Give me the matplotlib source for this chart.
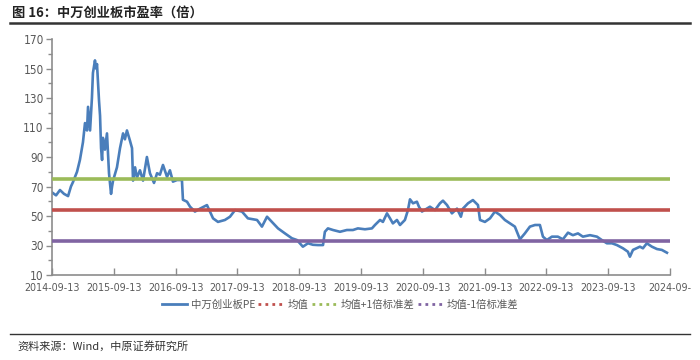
import matplotlib
matplotlib.use("Agg")
import matplotlib.pyplot as plt
import matplotlib.dates as mdates
from matplotlib.lines import Line2D
import pandas as pd

plt.rcParams['font.family'] = ['Noto Sans CJK SC', 'DejaVu Sans']

title = "图 16：中万创业板市盈率（倍）"
source = "资料来源：Wind，中原证券研究所"
series_names = ["中万创业板PE", "均值", "均值+1倍标准差", "均值-1倍标准差"]

dates = [
    "2014-09-13", "2014-10-07", "2014-10-30", "2014-11-23", "2014-12-17", "2015-01-03",
    "2015-01-15", "2015-02-08", "2015-02-25", "2015-03-15", "2015-03-27", "2015-04-08",
    "2015-04-14", "2015-04-26", "2015-05-07", "2015-05-13", "2015-05-25", "2015-05-31",
    "2015-06-06", "2015-06-18", "2015-06-24", "2015-06-30", "2015-07-06", "2015-07-11",
    "2015-07-23", "2015-08-04", "2015-08-16", "2015-08-22", "2015-08-28", "2015-09-03",
    "2015-09-09", "2015-10-02", "2015-10-20", "2015-11-07", "2015-11-18", "2015-11-30",
    "2015-12-18", "2015-12-30", "2016-01-05", "2016-01-17", "2016-01-28", "2016-02-15",
    "2016-03-04", "2016-03-27", "2016-04-14", "2016-05-08", "2016-05-26", "2016-06-12",
    "2016-06-30", "2016-07-24", "2016-08-10", "2016-08-28", "2016-09-21", "2016-10-20",
    "2016-10-26", "2016-11-19", "2016-12-07", "2017-01-05", "2017-02-04", "2017-03-17",
    "2017-04-22", "2017-05-21", "2017-07-01", "2017-07-31", "2017-08-30", "2017-10-10",
    "2017-11-14", "2018-01-07", "2018-02-05", "2018-03-07", "2018-04-05", "2018-05-11",
    "2018-06-21", "2018-08-01", "2018-08-31", "2018-10-05", "2018-11-04", "2018-12-03",
    "2019-01-02", "2019-02-01", "2019-02-12", "2019-03-02", "2019-04-01", "2019-05-12",
    "2019-06-22", "2019-07-28", "2019-08-26", "2019-10-07", "2019-11-17", "2019-12-05",
    "2020-01-04", "2020-01-21", "2020-02-14", "2020-03-03", "2020-03-20", "2020-04-13",
    "2020-05-01", "2020-05-30", "2020-06-17", "2020-06-29", "2020-07-17", "2020-08-09",
    "2020-08-21", "2020-09-08", "2020-10-07", "2020-10-25", "2020-11-24", "2020-12-23",
    "2021-01-10", "2021-02-03", "2021-03-04", "2021-04-03", "2021-04-26", "2021-05-08",
    "2021-06-07", "2021-07-06", "2021-08-05", "2021-08-17", "2021-09-15", "2021-10-15",
    "2021-11-13", "2021-12-13", "2022-01-11", "2022-02-10", "2022-03-11", "2022-04-10",
    "2022-05-09", "2022-06-08", "2022-07-08", "2022-08-06", "2022-08-24", "2022-09-16",
    "2022-10-16", "2022-11-20", "2022-12-20", "2023-01-19", "2023-02-17", "2023-03-19",
    "2023-04-17", "2023-05-29", "2023-07-09", "2023-08-07", "2023-09-06", "2023-10-06",
    "2023-11-04", "2023-12-10", "2024-01-08", "2024-01-20", "2024-02-07", "2024-03-19",
    "2024-04-06", "2024-04-29", "2024-05-29", "2024-06-28", "2024-07-27", "2024-08-26",
]
pe = [
    66, 64, 67.6, 65, 63.5, 70,
    73, 80, 88, 100, 113, 108,
    124, 108, 130, 147, 155.5, 150,
    153, 128, 118, 96, 88, 103,
    95, 106, 79, 72, 65, 70,
    74, 83, 96, 106, 102, 108,
    101, 96, 74, 83, 76, 81,
    74, 90, 79, 72.4, 79, 78,
    84.6, 76.5, 81, 73.3, 74.4, 74.4,
    61, 59.7, 56.3, 53, 55, 57.4,
    48.4, 46, 47.3, 49.5, 54, 53,
    48.4, 47.3, 42.8, 49.5, 46, 41.6,
    38.2, 34.9, 33.7, 29.2, 31.5, 30.5,
    30.3, 30.3, 39.3, 41.6, 40.5, 39.3,
    40.5, 40.5, 41.6, 41, 41.6, 43.9,
    47.3, 46, 51.8, 48.4, 45, 47.3,
    43.9, 47.3, 54, 61.3, 58.6, 59.7,
    56.3, 53, 55, 56.3, 54, 58.6,
    60.4, 57.4, 51.8, 55, 49.5, 55,
    58.6, 60.8, 57.4, 47.3, 46, 48.4,
    53, 50.7, 47.3, 45, 42.8, 34.2,
    38.2, 42.8, 43.9, 43.9, 36, 33.7,
    36, 36, 34.2, 38.7, 37, 38.2,
    36, 37, 36, 33.7, 31.5, 31.5,
    30.3, 28.1, 25.8, 22.4, 27, 29.2,
    28.1, 31.5, 29.2, 27.6, 27, 25.1,
]
mean_val = 54.0
plus1_val = 75.0
minus1_val = 33.3

tick_dates = ["2014-09-13", "2015-09-13", "2016-09-13", "2017-09-13", "2018-09-13",
              "2019-09-13", "2020-09-13", "2021-09-13", "2022-09-13", "2023-09-13",
              "2024-09-13"]
tick_labels = ["2014-09-13", "2015-09-13", "2016-09-13", "2017-09-13", "2018-09-13",
               "2019-09-13", "2020-09-13", "2021-09-13", "2022-09-13", "2023-09-13",
               "2024-09-"]
y_ticks = [10, 30, 50, 70, 90, 110, 130, 150, 170]

c_line = "#4a7ebb"
c_mean = "#c0504d"
c_plus = "#9bbb59"
c_minus = "#8064a2"
c_axis = "#8c8c8c"
c_text = "#595959"

x = pd.to_datetime(dates)
xt = pd.to_datetime(tick_dates)

fig = plt.figure(figsize=(7, 3.6), dpi=100)
ax = fig.add_axes([52/700, 1-275/360, (670-52)/700, (275-39)/360])

ax.plot(x, pe, color=c_line, lw=1.9, zorder=2)
ax.axhline(mean_val, color=c_mean, lw=2.6, zorder=3)
ax.axhline(plus1_val, color=c_plus, lw=2.6, zorder=3)
ax.axhline(minus1_val, color=c_minus, lw=2.6, zorder=3)

ax.set_xlim(xt[0], xt[-1])
ax.set_ylim(10, 170)
ax.set_yticks(y_ticks)
ax.set_yticks(list(range(20, 170, 20)), minor=True)
ax.set_xticks(xt)
ax.set_xticklabels(tick_labels)

for lab in ax.get_xticklabels():
    lab.set_fontfamily('DejaVu Sans')
    lab.set_fontstretch('condensed')
    lab.set_fontsize(7.7)
    lab.set_color(c_text)
for lab in ax.get_yticklabels():
    lab.set_fontfamily('DejaVu Sans')
    lab.set_fontstretch('condensed')
    lab.set_fontsize(8.5)
    lab.set_color(c_text)

for s in ["top", "right"]:
    ax.spines[s].set_visible(False)
for s in ["left", "bottom"]:
    ax.spines[s].set_color(c_axis)
    ax.spines[s].set_linewidth(1.2)
ax.tick_params(axis='y', which='both', direction='out', color=c_axis, width=1, pad=2)
ax.tick_params(axis='y', which='major', length=4)
ax.tick_params(axis='y', which='minor', length=3)
ax.tick_params(axis='x', direction='in', color=c_axis, length=5, width=1, pad=6)

handles = [
    Line2D([], [], color=c_line, lw=2),
    Line2D([], [], color=c_mean, lw=2, ls=(0, (1, 1.5))),
    Line2D([], [], color=c_plus, lw=2, ls=(0, (1, 1.5))),
    Line2D([], [], color=c_minus, lw=2, ls=(0, (1, 1.5))),
]
leg = fig.legend(handles, series_names, loc='center', bbox_to_anchor=(340/700, 1-305/360),
                 ncol=4, frameon=False, fontsize=7.5, handlelength=2.4, handletextpad=0.4,
                 columnspacing=0.3, labelcolor=c_text)

fig.text(12/700, 1-13/360, title, fontsize=9.5, fontweight='bold', color='#222222',
         va='center', ha='left')
fig.add_artist(Line2D([10/700, 690/700], [1-23/360, 1-23/360], color='#333333', lw=1.8))
fig.add_artist(Line2D([10/700, 690/700], [1-334/360, 1-334/360], color='#333333', lw=1.0))
fig.text(17/700, 1-346/360, source, fontsize=8, color='#333333', va='center', ha='left')

fig.savefig("out.png", dpi=100)
